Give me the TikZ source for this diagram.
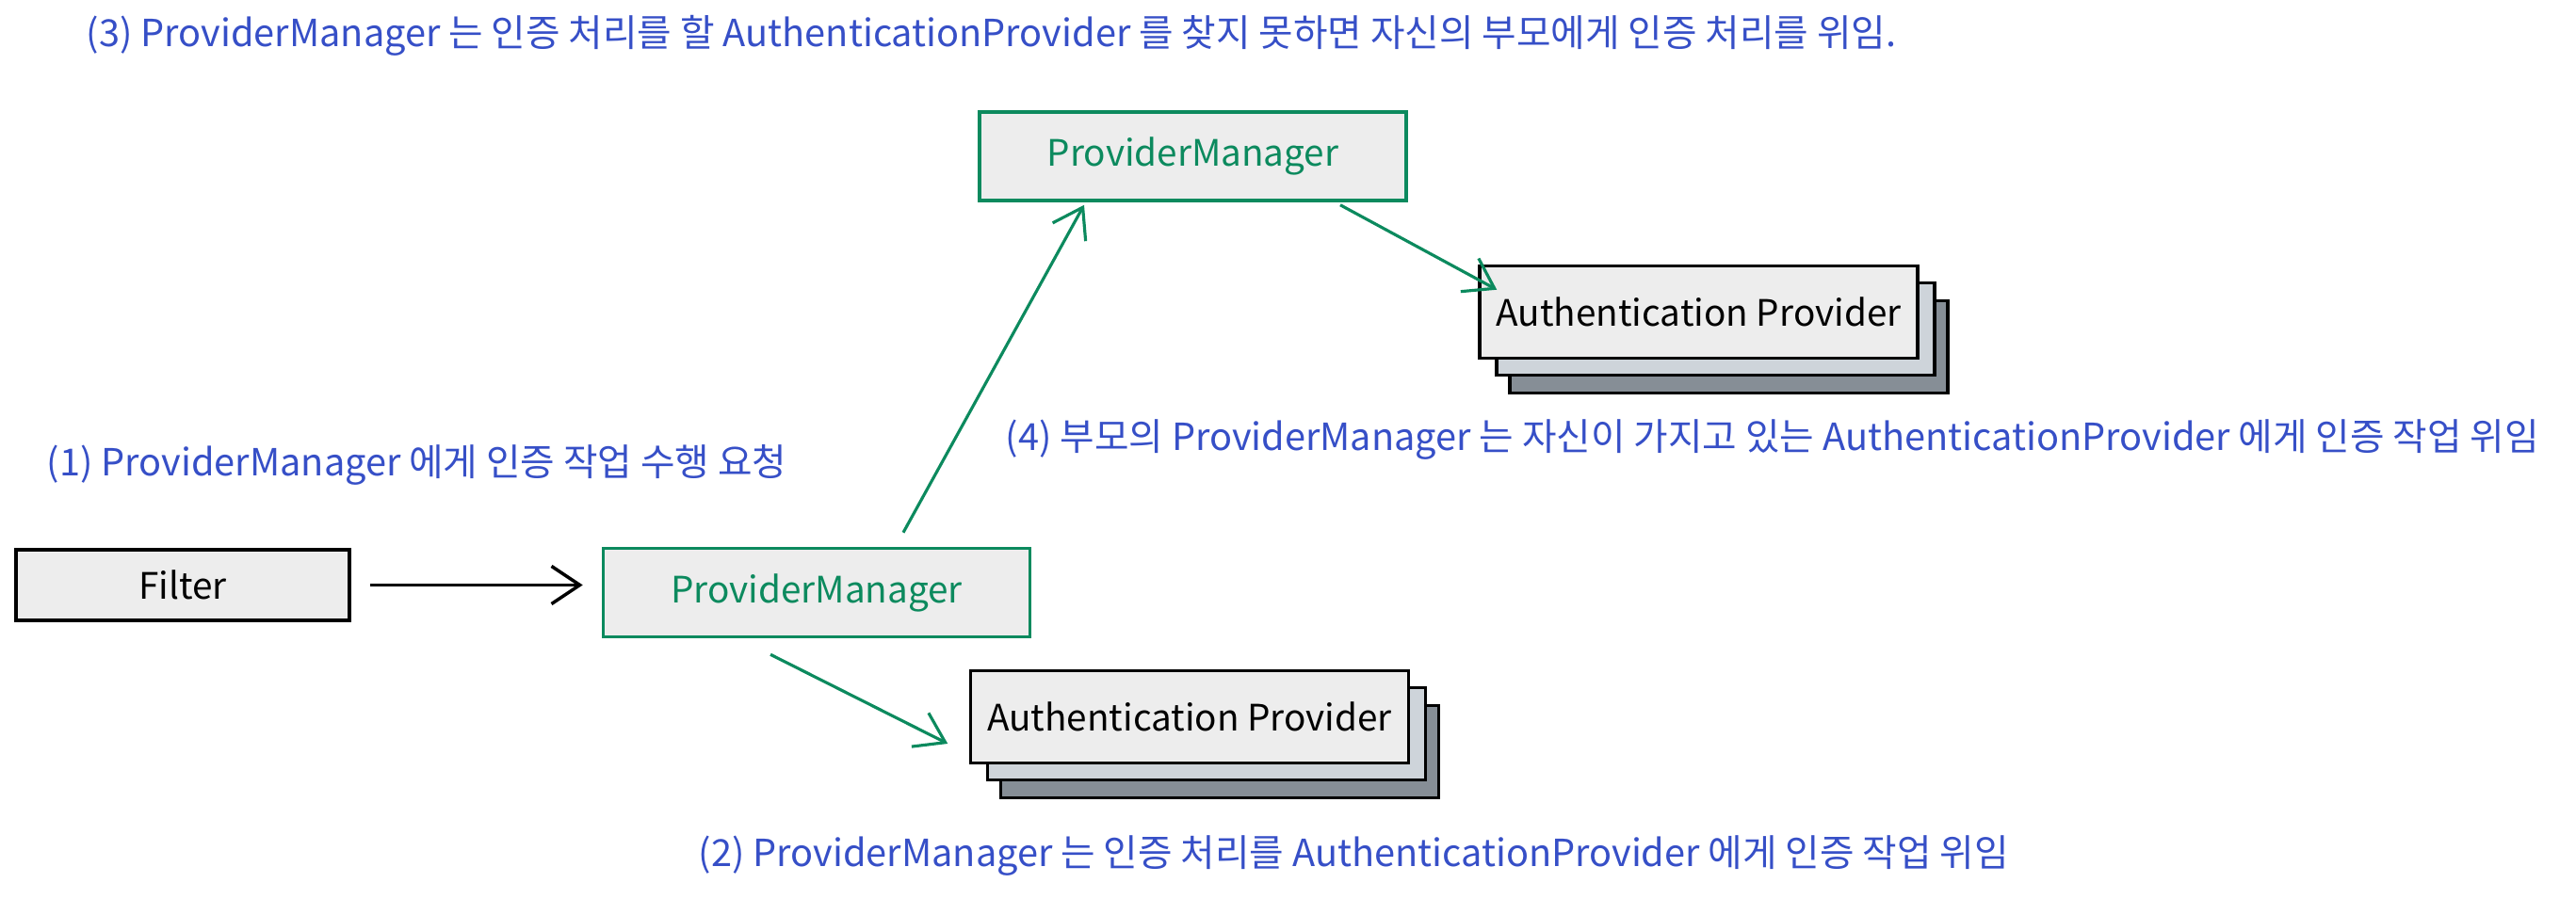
\documentclass[tikz,border=0pt]{standalone}
\usepackage{fontspec}
\setmainfont{Noto Sans CJK KR}
\usepackage{tikz}
\usetikzlibrary{arrows.meta}

\definecolor{noteblue}{HTML}{364FC7}
\definecolor{pmgreen}{HTML}{0C8A5E}
\definecolor{boxfill}{HTML}{EDEDED}
\definecolor{stacklight}{HTML}{CED4DA}
\definecolor{stackdark}{HTML}{868E96}

\tikzset{
  box/.style={draw, line width=1pt, fill=boxfill, inner sep=0pt, minimum height=0.75cm, font=\fontsize{11}{13}\selectfont},
  pmbox/.style={box, draw=pmgreen, text=pmgreen, minimum width=4.53cm, minimum height=0.94cm},
  apbox/.style={box, minimum width=4.65cm, minimum height=0.98cm},
  note/.style={anchor=west, inner sep=0pt, text=noteblue, font=\fontsize{11.3}{13}\selectfont},
  flow/.style={-{Straight Barb[length=3mm,width=4mm]}, line width=0.9pt, draw=pmgreen},
}

\begin{document}
\begin{tikzpicture}
      \useasboundingbox (0,0) rectangle (27.35,9.55);

      \node[note] (n3) at (0.91,9.17) {(3) ProviderManager 는 인증 처리를 할 AuthenticationProvider 를 찾지 못하면 자신의 부모에게 인증 처리를 위임.};
      \node[note] (n4) at (10.67,4.88) {(4) 부모의 ProviderManager 는 자신이 가지고 있는 AuthenticationProvider 에게 인증 작업 위임};
      \node[note] (n1) at (0.49,4.61) {(1) ProviderManager 에게 인증 작업 수행 요청};
      \node[note] (n2) at (7.41,0.46) {(2) ProviderManager 는 인증 처리를 AuthenticationProvider 에게 인증 작업 위임};

      \node[box, minimum width=3.54cm] (filter) at (1.94,3.335) {Filter};
      \node[pmbox] (pm) at (8.67,3.255) {ProviderManager};
      \node[pmbox] (parent) at (12.665,7.89) {ProviderManager};

      \node[apbox, fill=stackdark] (apt3) at (18.355,5.865) {};
      \node[apbox, fill=stacklight] (apt2) at (18.215,6.055) {};
      \node[apbox] (apt) at (18.035,6.235) {Authentication Provider};

      \node[apbox, fill=stackdark] (apb3) at (12.95,1.565) {};
      \node[apbox, fill=stacklight] (apb2) at (12.81,1.755) {};
      \node[apbox] (apb) at (12.63,1.935) {Authentication Provider};

      \draw[-{Straight Barb[length=3mm,width=4mm]}, line width=1pt] ([xshift=2mm]filter.east) -- ([xshift=-2mm]filter.east -| pm.west);
      \draw[flow] ([shift={(0.92,0.15)}]pm.north) -- ([shift={(-1.155,-0.03)}]parent.south);
      \draw[flow] ([shift={(1.565,-0.03)}]parent.south) -- ([shift={(0.2,-0.27)}]apt.north west);
      \draw[flow] ([shift={(-0.49,-0.17)}]pm.south) -- ([shift={(-0.225,-0.285)}]apb.west);
    \end{tikzpicture}
\end{document}
